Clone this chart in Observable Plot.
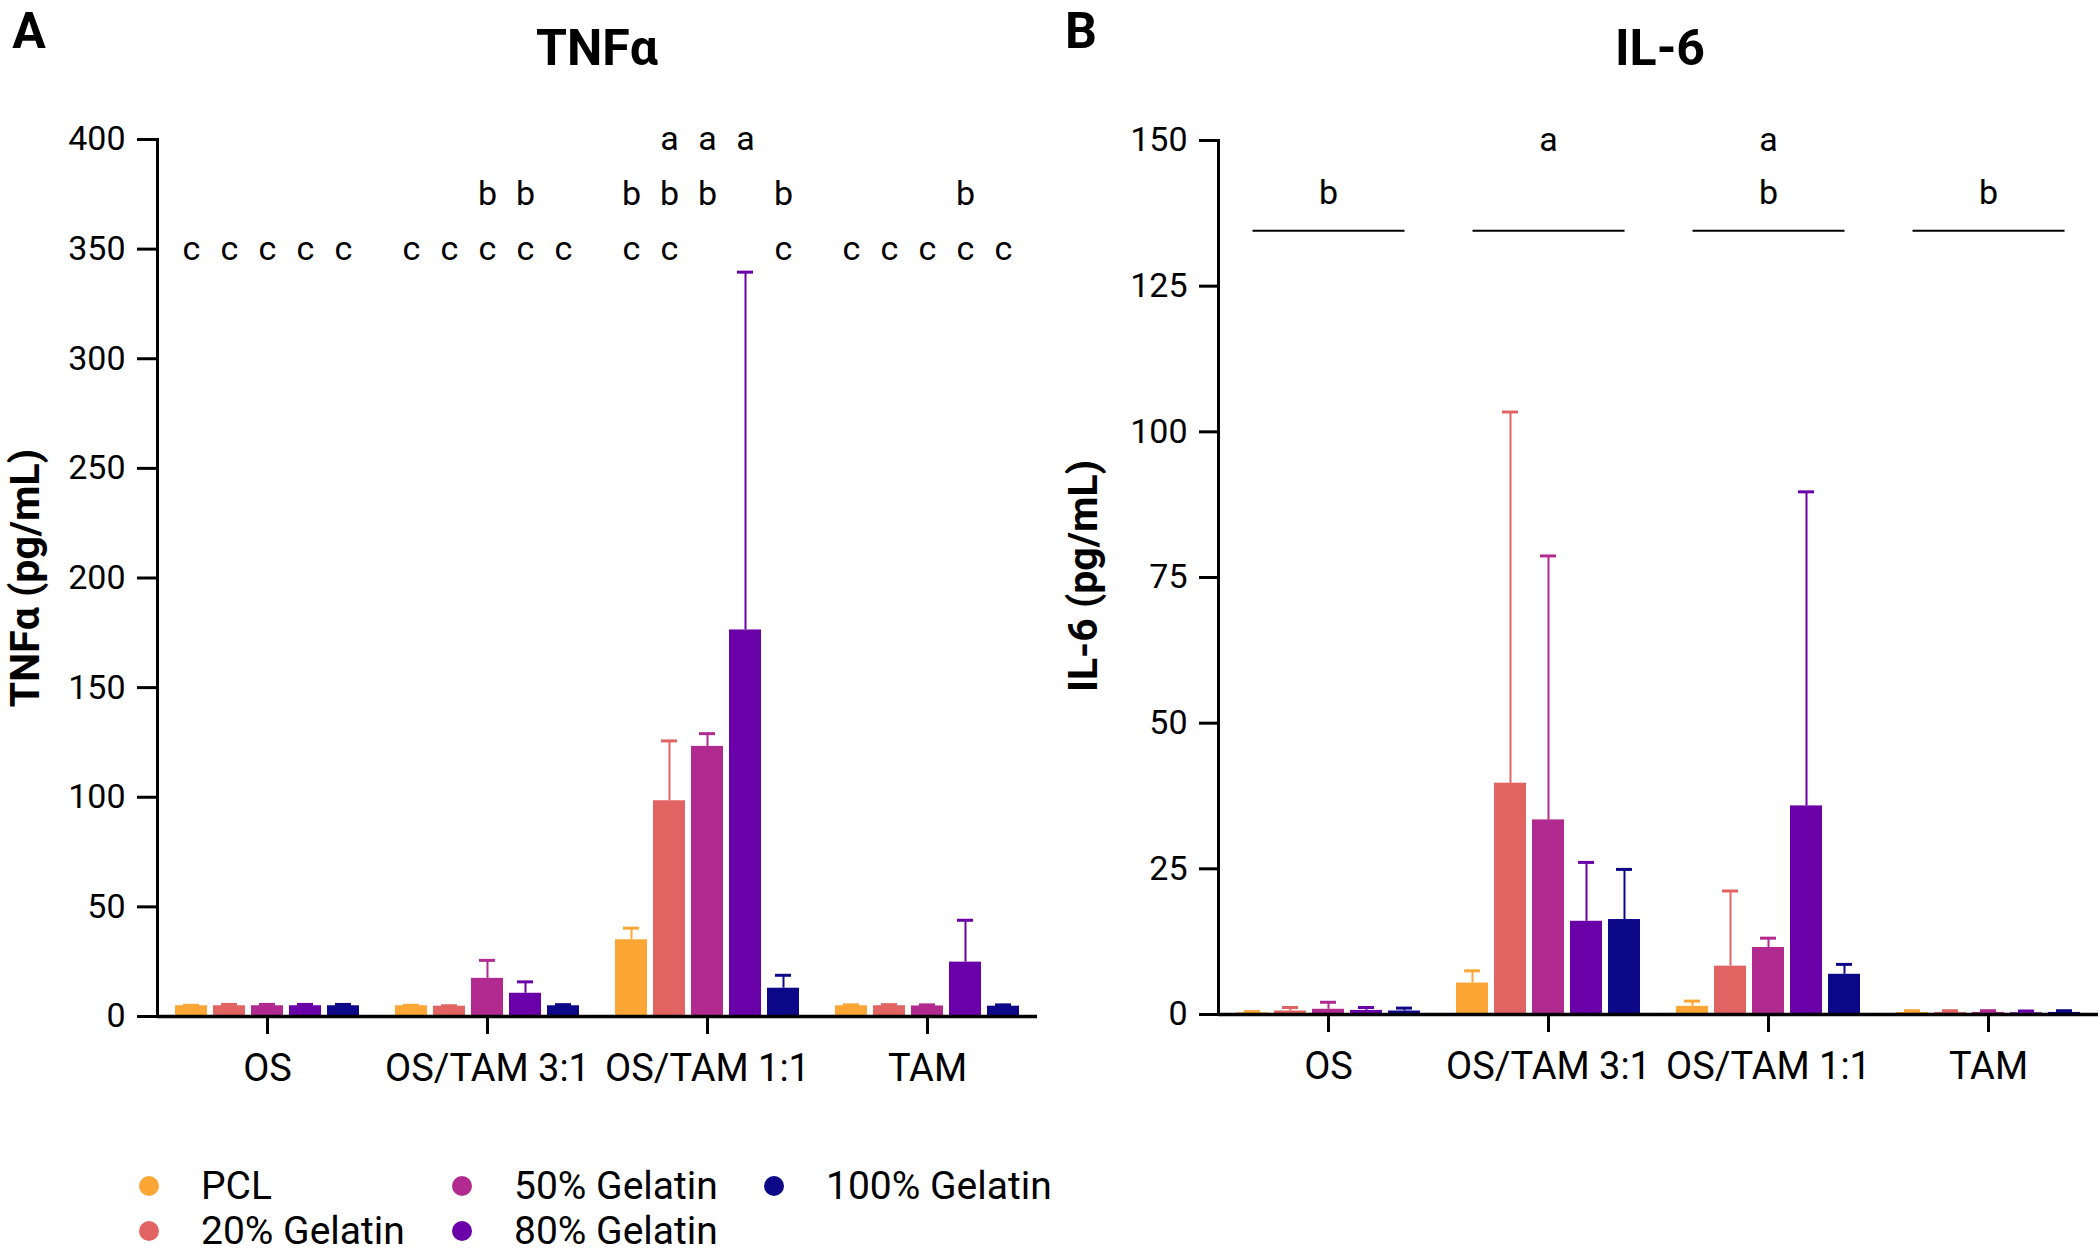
<!DOCTYPE html>
<html>
<head>
<meta charset="utf-8">
<script src="https://cdn.jsdelivr.net/npm/d3@7"></script>
<script src="https://cdn.jsdelivr.net/npm/@observablehq/plot@0.6"></script>
<style>
  html, body { margin: 0; padding: 0; background: #fff; }
  #root { position: relative; width: 2100px; height: 1253px; overflow: hidden; font-family: Roboto, "Noto Sans", sans-serif; color: #000; }
  .abs { position: absolute; white-space: nowrap; line-height: 1; transform: translate(-50%, -50%); }
  .panel { font-weight: 700; font-size: 50px; }
  .title { font-weight: 700; font-size: 50px; }
  .ylab { font-weight: 700; font-size: 41px; transform: translate(-50%, -50%) rotate(-90deg); }
  .leg { position: absolute; display: flex; align-items: center; font-size: 39px; line-height: 1; white-space: nowrap; }
  .leg .dot { width: 20px; height: 20px; border-radius: 50%; margin-right: 42px; }
</style>
</head>
<body>
<div id="root">
  <div id="A" style="position:absolute;left:0;top:0"></div>
  <div id="B" style="position:absolute;left:1050px;top:0"></div>
  <div class="abs panel" style="left:29px;top:31px">A</div>
  <div class="abs panel" style="left:1081px;top:31px">B</div>
  <div class="abs title" style="left:597px;top:48px">TNFα</div>
  <div class="abs title" style="left:1660px;top:48px">IL-6</div>
  <div class="abs ylab" style="left:25px;top:578px">TNFα (pg/mL)</div>
  <div class="abs ylab" style="left:1083px;top:576px">IL-6 (pg/mL)</div>
  <div id="legend"></div>
</div>
<script>
// ---------- data ----------
const groups = ["OS", "OS/TAM 3:1", "OS/TAM 1:1", "TAM"];
const series = ["PCL", "20% Gelatin", "50% Gelatin", "80% Gelatin", "100% Gelatin"];
const colors = ["#FCA636", "#E16462", "#B12A90", "#6A00A8", "#0D0887"];

// TNFα (pg/mL): mean and SD, rows = groups, columns = series
const tnfMean = [
  [4.9, 4.9, 4.9, 4.9, 4.9],
  [4.9, 4.7, 17.4, 10.6, 4.9],
  [35.0, 98.4, 123.2, 176.3, 12.9],
  [4.9, 4.9, 4.8, 24.8, 4.7]
];
const tnfErr = [
  [0.2, 0.6, 0.6, 0.6, 0.6],
  [0.2, 0.2, 8.2, 5.2, 0.5],
  [5.3, 27.3, 5.8, 163.2, 5.9],
  [0.4, 0.5, 0.5, 19.1, 0.6]
];
// TNFα significance letters: one string per group, one char per series ("-" = none)
const tnfLetterRowsY = [400, 375, 350];
const tnfLetterRowsText = ["a", "b", "c"];
const tnfLetters = [
  ["-----", "-----", "-aaa-", "-----"],
  ["-----", "--bb-", "bbb-b", "---b-"],
  ["ccccc", "ccccc", "cc--c", "ccccc"]
];

// IL-6 (pg/mL)
const il6Mean = [
  [0.3, 0.6, 0.9, 0.7, 0.6],
  [5.4, 39.7, 33.4, 16.0, 16.3],
  [1.4, 8.3, 11.5, 35.8, 6.9],
  [0.35, 0.35, 0.35, 0.3, 0.35]
];
const il6Err = [
  [0.2, 0.6, 1.2, 0.5, 0.5],
  [2.1, 63.7, 45.3, 10.1, 8.6],
  [0.9, 12.9, 1.6, 53.9, 1.7],
  [0.3, 0.3, 0.3, 0.3, 0.3]
];
const il6LetterGroup = ["OS", "OS/TAM 3:1", "OS/TAM 1:1", "OS/TAM 1:1", "TAM"];
const il6LetterText = ["b", "a", "a", "b", "b"];
const il6LetterY = [141, 150, 150, 141, 141];
const il6LineGroup = ["OS", "OS/TAM 3:1", "OS/TAM 1:1", "TAM"];
const il6LineY = [134.5, 134.5, 134.5, 134.5];

// ---------- build tables ----------
function toRows(mean, err) {
  const rows = [];
  groups.forEach((g, i) => series.forEach((s, j) => rows.push({group: g, series: s, mean: mean[i][j], err: err[i][j]})));
  return rows;
}
const tnfRows = toRows(tnfMean, tnfErr);
const il6Rows = toRows(il6Mean, il6Err);

const tnfLetterData = [];
tnfLetters.forEach((row, r) => row.forEach((str, gi) => {
  [...str].forEach((ch, si) => {
    if (ch !== "-") tnfLetterData.push({group: groups[gi], series: series[si], y: tnfLetterRowsY[r], letter: tnfLetterRowsText[r]});
  });
}));
const il6LetterData = il6LetterGroup.map((g, i) => ({group: g, letter: il6LetterText[i], y: il6LetterY[i]}));
const il6LineData = il6LineGroup.map((g, i) => ({group: g, y: il6LineY[i]}));

function barMarks(rows) {
  return [
    Plot.barY(rows, {fx: "group", x: "series", y: "mean", fill: "series"}),
    Plot.ruleX(rows, {fx: "group", x: "series", y1: "mean", y2: d => d.mean + d.err, stroke: "series", strokeWidth: 2}),
    Plot.tickY(rows, {fx: "group", x: "series", y: d => d.mean + d.err, stroke: "series", strokeWidth: 3, insetLeft: 8, insetRight: 8})
  ];
}

const common = {
  width: 1050, height: 1120,
  style: {fontFamily: "Roboto, 'Noto Sans', sans-serif", fontSize: "34px", color: "#000", background: "transparent"},
  fx: {domain: groups, padding: 0, label: null},
  x: {domain: series, paddingInner: 6 / 38, paddingOuter: 18 / 38, axis: null},
  color: {domain: series, range: colors}
};

const chartA = Plot.plot({
  ...common,
  marginLeft: 157, marginRight: 13, marginTop: 139, marginBottom: 104,
  y: {domain: [0, 400]},
  marks: [
    ...barMarks(tnfRows),
    Plot.ruleY([0], {strokeWidth: 3.5}),
    Plot.frame({anchor: "left", facetAnchor: "left", strokeWidth: 3}),
    Plot.axisY({ticks: d3.range(0, 401, 50), tickSize: 20, tickPadding: 12, strokeWidth: 3, fontSize: 34, label: null}),
    Plot.axisFx({anchor: "bottom", tickSize: 18, tickPadding: 20, strokeWidth: 3, fontSize: 38, label: null}),
    Plot.text(tnfLetterData, {fx: "group", x: "series", y: "y", text: "letter", fontSize: 34, fill: "#000"})
  ]
});
document.getElementById("A").appendChild(chartA);

const chartB = Plot.plot({
  ...common,
  marginLeft: 168, marginRight: 2, marginTop: 140, marginBottom: 106,
  y: {domain: [0, 150]},
  marks: [
    ...barMarks(il6Rows),
    Plot.ruleY([0], {strokeWidth: 3.5}),
    Plot.frame({anchor: "left", facetAnchor: "left", strokeWidth: 3}),
    Plot.axisY({ticks: d3.range(0, 151, 25), tickSize: 19, tickPadding: 12, strokeWidth: 3, fontSize: 34, label: null}),
    Plot.axisFx({anchor: "bottom", tickSize: 18, tickPadding: 20, strokeWidth: 3, fontSize: 38, label: null}),
    Plot.link(il6LineData, {fx: "group", x1: () => series[0], x2: () => series[series.length - 1], y1: "y", y2: "y", strokeWidth: 2, stroke: "#000"}),
    Plot.text(il6LetterData, {fx: "group", y: "y", text: "letter", fontSize: 34, fill: "#000"})
  ]
});
document.getElementById("B").appendChild(chartB);

// ---------- legend (column-major, 3 columns) ----------
const legCols = [149, 462, 774];
const legRows = [1186, 1231];
const legend = document.getElementById("legend");
series.forEach((s, i) => {
  const col = Math.floor(i / 2), row = i % 2;
  const el = document.createElement("div");
  el.className = "leg";
  el.style.left = (legCols[col] - 10) + "px";
  el.style.top = (legRows[row] - 20) + "px";
  el.style.height = "40px";
  el.innerHTML = `<span class="dot" style="background:${colors[i]}"></span><span>${s}</span>`;
  legend.appendChild(el);
});
</script>
</body>
</html>
